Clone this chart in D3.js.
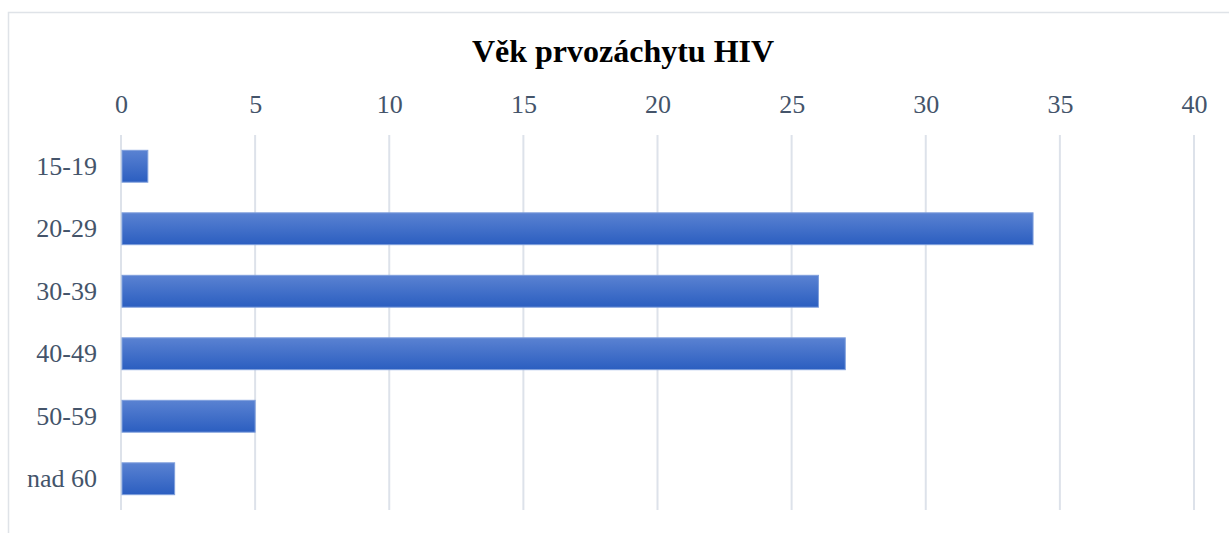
<!doctype html>
<html>
<head>
<meta charset="utf-8">
<title>Věk prvozáchytu HIV</title>
<script src="https://d3js.org/d3.v7.min.js"></script>
<style>
  body { margin: 0; background: #fff; }
  svg text { font-family: "Liberation Serif", "Times New Roman", serif; }
</style>
</head>
<body>
<div id="plot"></div>
<script>
// data
const categories = ["15-19", "20-29", "30-39", "40-49", "50-59", "nad 60"];
const counts = [1, 34, 26, 27, 5, 2];
const xTicks = [0, 5, 10, 15, 20, 25, 30, 35, 40];

const W = 1229, H = 533;
const margin = {top: 135, right: 35, bottom: 23, left: 121};
const width = W - margin.left - margin.right,
      height = H - margin.top - margin.bottom;

const svg = d3.select("#plot").append("svg")
  .attr("width", W).attr("height", H);

// chart frame
svg.append("rect")
  .attr("x", 8.5).attr("y", 12.5)
  .attr("width", W).attr("height", H)
  .attr("fill", "none").attr("stroke", "#dfe3e8").attr("stroke-width", 1.5);

const defs = svg.append("defs");
const grad = defs.append("linearGradient")
  .attr("id", "barGrad").attr("x1", 0).attr("y1", 0).attr("x2", 0).attr("y2", 1);
grad.append("stop").attr("offset", "0%").attr("stop-color", "#5a82d2");
grad.append("stop").attr("offset", "100%").attr("stop-color", "#2b5ec0");

const g = svg.append("g").attr("transform", `translate(${margin.left},${margin.top})`);

const x = d3.scaleLinear().domain([0, 40]).range([0, width]);
const y = d3.scaleBand().domain(categories).range([0, height]).paddingInner(0.49).paddingOuter(0.245);

// gridlines
g.selectAll("line.grid").data(xTicks).enter().append("line")
  .attr("class", "grid")
  .attr("x1", d => x(d)).attr("x2", d => x(d))
  .attr("y1", 0).attr("y2", height)
  .attr("stroke", "#dde2ea").attr("stroke-width", 2);

// top axis labels
const xAxis = g.append("g")
  .call(d3.axisTop(x).tickValues(xTicks).tickSize(0).tickPadding(22));
xAxis.select(".domain").remove();
xAxis.selectAll("text")
  .attr("font-family", "Liberation Serif, serif")
  .style("font-size", "26px").attr("fill", "#44546a");

// left axis labels
const yAxis = g.append("g")
  .call(d3.axisLeft(y).tickSize(0).tickPadding(24));
yAxis.select(".domain").remove();
yAxis.selectAll("text")
  .attr("font-family", "Liberation Serif, serif")
  .style("font-size", "26px").attr("fill", "#44546a");

// bars
g.selectAll("rect.bar").data(categories).enter().append("rect")
  .attr("class", "bar")
  .attr("x", x(0) + 1)
  .attr("y", d => y(d))
  .attr("width", (d, i) => x(counts[i]) - x(0) - 1)
  .attr("height", y.bandwidth())
  .attr("fill", "url(#barGrad)")
  .attr("stroke", "#7f9fdc").attr("stroke-width", 1);

// title
svg.append("text")
  .attr("x", 623).attr("y", 62)
  .attr("text-anchor", "middle")
  .style("font-size", "32px").style("font-weight", "bold")
  .attr("fill", "#000")
  .text("Věk prvozáchytu HIV");
</script>
</body>
</html>
